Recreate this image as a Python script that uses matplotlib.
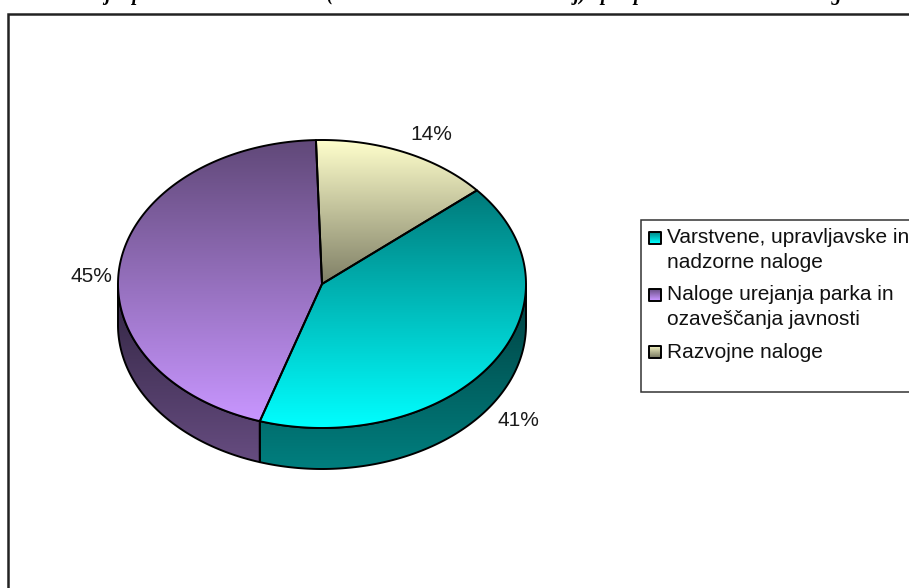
import numpy as np
import matplotlib
matplotlib.use("Agg")
import matplotlib.pyplot as plt
from matplotlib.patches import Polygon, Rectangle
from matplotlib.colors import LinearSegmentedColormap

# --- data ---
categories = ["Varstvene, upravljavske in\nnadzorne naloge",
              "Naloge urejanja parka in\nozaveščanja javnosti",
              "Razvojne naloge"]
values = [41.2, 44.6, 14.2]
title_text = "Deleži jih porabe delovnih ur leta (brez dela in ostalih ur za nalej)   pri  posameznih ostalih nalog"

top_colors = {0: ("#007a7a", "#00ffff"), 1: ("#604878", "#c896ff"), 2: ("#ffffcc", "#7f7f66")}
side_colors = {0: ("#003f3f", "#007f7f"), 1: ("#302440", "#664c80"), 2: ("#7f7f66", "#7f7f66")}

# --- layout (pixel space) ---
W, H = 909, 588
cx, cy, rx, ry, depth = 322, 284, 204, 144, 41
start = -1.7  # degrees clockwise from 12 o'clock; Razvojne slice first

fig = plt.figure(figsize=(W / 100, H / 100), dpi=100)
ax = fig.add_axes([0, 0, 1, 1])
ax.set_xlim(0, W)
ax.set_ylim(H, 0)
ax.axis("off")

SANS = "Liberation Sans"
LABEL_FS = 15.0


def ell(theta_deg):
    t = np.radians(theta_deg)
    return cx + rx * np.sin(t), cy - ry * np.cos(t)


def grad_fill(pts, c0, c1, y0=None, y1=None, zorder=2):
    pts = np.asarray(pts)
    x0, x1 = pts[:, 0].min(), pts[:, 0].max()
    y0 = pts[:, 1].min() if y0 is None else y0
    y1 = pts[:, 1].max() if y1 is None else y1
    cmap = LinearSegmentedColormap.from_list("g", [c0, c1])
    im = ax.imshow(np.linspace(0, 1, 256)[:, None], cmap=cmap, aspect="auto",
                   extent=(x0, x1, y1, y0), zorder=zorder, interpolation="bilinear")
    poly = Polygon(pts, closed=True, facecolor="none", edgecolor="black",
                   linewidth=1.4, zorder=zorder + 0.1, joinstyle="round")
    ax.add_patch(poly)
    im.set_clip_path(poly)
    ax.set_xlim(0, W)
    ax.set_ylim(H, 0)


# outer chart frame (runs off the right and bottom edges)
ax.add_patch(Rectangle((7.5, 13.5), W, H, facecolor="white", edgecolor="#222222", linewidth=1.8, zorder=1))

# slice angle ranges, in drawing order clockwise from the start
order = [2, 0, 1]
angles = {}
a = start
for i in order:
    sweep = values[i] / sum(values) * 360
    angles[i] = (a, a + sweep)
    a += sweep

# side walls
for i in order:
    a0, a1 = angles[i]
    lo, hi = max(a0, 90), min(a1, 270)
    if lo >= hi:
        continue
    th = np.linspace(lo, hi, 120)
    x, y = ell(th)
    pts = np.r_[np.c_[x, y], np.c_[x[::-1], y[::-1] + depth]]
    grad_fill(pts, *side_colors[i], zorder=2)

# top faces
for i in order:
    a0, a1 = angles[i]
    th = np.linspace(a0, a1, 200)
    x, y = ell(th)
    pts = np.r_[[[cx, cy]], np.c_[x, y]]
    grad_fill(pts, *top_colors[i], zorder=3)

# data labels
label_pos = {2: (431, 134), 1: (91, 277), 0: (518, 421)}
for i, (lx, ly) in label_pos.items():
    ax.text(lx, ly, f"{round(values[i])}%", ha="center", va="center",
            family=SANS, fontsize=LABEL_FS, color="#1a1a1a", zorder=5)

# legend box (runs off the right edge)
ax.add_patch(Rectangle((640.5, 219.5), W, 172.5, facecolor="white", edgecolor="#333333", linewidth=1.1, zorder=4))
key_y = [232, 289, 346]
text_y = [243, 300, 358]
for i, ky, ty in zip(range(3), key_y, text_y):
    c = top_colors[i]
    light, dark = (c[1], c[0]) if i < 2 else (c[0], c[1])
    grad_fill([(648.5, ky), (661, ky), (661, ky + 11.5), (648.5, ky + 11.5)],
              dark if i < 2 else light, light if i < 2 else dark, zorder=5)
    lines = categories[i].split("\n")
    for j, line in enumerate(lines):
        ax.text(667, ty + j * 25, line, family=SANS, fontsize=LABEL_FS, color="#111111",
                va="baseline", ha="left", zorder=6)

# title, cut off by the top edge of the image
ax.text(50, 0, title_text, family="Liberation Serif", fontsize=14.2, fontweight="bold",
        fontstyle="italic", va="baseline", ha="left", color="black", zorder=6)

fig.savefig("out.png", dpi=100)
